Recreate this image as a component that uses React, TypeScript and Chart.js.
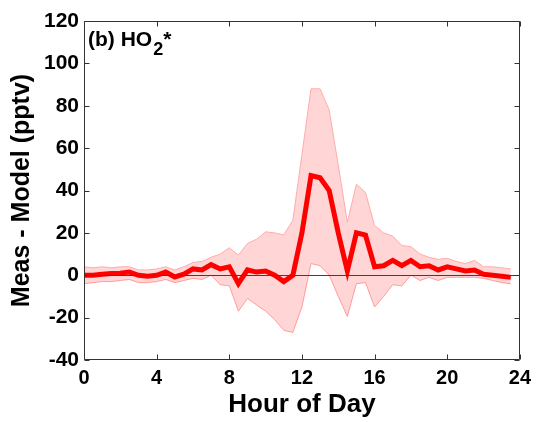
import React, { useEffect, useRef } from "react";
import { Chart, registerables } from "chart.js";

Chart.register(...registerables);

const hours = [0, 0.5, 1, 1.5, 2, 2.5, 3, 3.5, 4, 4.5, 5, 5.5, 6, 6.5, 7, 7.5, 8, 8.5, 9, 9.5, 10, 10.5, 11, 11.5, 12, 12.5, 13, 13.5, 14, 14.5, 15, 15.5, 16, 16.5, 17, 17.5, 18, 18.5, 19, 19.5, 20, 20.5, 21, 21.5, 22, 22.5, 23, 23.5];

const meanDiff = [0, 0, 0.5, 0.8, 1, 1.5, 0, -0.5, 0, 1.5, -0.8, 0.5, 3, 2.5, 5, 3, 4, -4, 2.5, 1.5, 2, 0, -3, 0, 20, 47, 46, 40, 20, 2, 20, 19, 4, 4.5, 7, 4.5, 7, 4, 4.5, 2.5, 4, 3, 2, 2.5, 0.5, 0, -0.5, -1];

const upperBound = [4, 3.5, 4, 3.5, 4, 4, 2.5, 2.5, 3, 4, 2.5, 4, 6, 6.5, 8.5, 10, 13, 9.5, 15, 17, 20.5, 20, 19, 26, 57, 88, 88, 78, 52, 25, 43, 39, 23.5, 20, 18.5, 14, 13.5, 10, 8.5, 7.5, 8, 6.5, 5.5, 7, 4, 4, 3.5, 3];

const lowerBound = [-4, -3.5, -3, -3, -2.5, -2, -3.5, -3.5, -3, -2, -3.5, -2.5, -1.5, -2, 0, -4.5, -5, -17, -11, -14, -17, -21, -26, -27, -15, 5.5, 4.5, 0, -10, -19.5, -4, -3.5, -15, -10, -4.5, -5, 0, -2.5, -1, -2.5, -1, -1, -1, -1, -1.5, -2.5, -3.5, -4];

const xTicks = [0, 4, 8, 12, 16, 20, 24];
const yTicks = [-40, -20, 0, 20, 40, 60, 80, 100, 120];

const FONT = '"Liberation Sans", Arial, Helvetica, sans-serif';

const framePlugin = {
  id: "frame",
  afterDatasetsDraw(chart: any) {
    const { ctx, chartArea, scales } = chart;
    const y0 = Math.round(scales.y.getPixelForValue(0)) + 0.5;
    ctx.save();
    ctx.strokeStyle = "#404040";
    ctx.lineWidth = 1;
    ctx.beginPath();
    ctx.moveTo(chartArea.left, y0);
    ctx.lineTo(chartArea.right, y0);
    ctx.stroke();
    ctx.restore();
  },
  afterDraw(chart: any) {
    const { ctx, chartArea, scales } = chart;
    const l = Math.round(chartArea.left) + 0.5;
    const r = Math.round(chartArea.right) - 0.5;
    const t = Math.round(chartArea.top) + 0.5;
    const b = Math.round(chartArea.bottom) - 0.5;
    ctx.save();
    ctx.strokeStyle = "#333";
    ctx.lineWidth = 1;
    ctx.beginPath();
    ctx.rect(l, t, r - l, b - t);
    const tl = 5;
    yTicks.forEach((v) => {
      const py = Math.round(scales.y.getPixelForValue(v)) + 0.5;
      ctx.moveTo(l, py);
      ctx.lineTo(l + tl, py);
      ctx.moveTo(r, py);
      ctx.lineTo(r - tl, py);
    });
    xTicks.forEach((v) => {
      const px = Math.round(scales.x.getPixelForValue(v)) + 0.5;
      ctx.moveTo(px, b);
      ctx.lineTo(px, b - tl);
      ctx.moveTo(px, t);
      ctx.lineTo(px, t + tl);
    });
    ctx.stroke();

    // panel label
    ctx.fillStyle = "#000";
    ctx.textBaseline = "alphabetic";
    ctx.textAlign = "left";
    let x = chartArea.left + 4;
    const base = chartArea.top + 25;
    ctx.font = `bold 21px ${FONT}`;
    ctx.fillText("(b) HO", x, base);
    x += ctx.measureText("(b) HO").width + 1;
    ctx.font = `bold 18px ${FONT}`;
    ctx.fillText("2", x, base + 9);
    x += ctx.measureText("2").width;
    ctx.font = `bold 21px ${FONT}`;
    ctx.fillText("*", x, base);
    ctx.restore();
  },
};

export default function App() {
  const ref = useRef<HTMLCanvasElement | null>(null);
  useEffect(() => {
    if (!ref.current) return;
    const pts = (arr: number[]) => hours.map((h, i) => ({ x: h, y: arr[i] }));
    const chart = new Chart(ref.current, {
      type: "line",
      data: {
        datasets: [
          {
            label: "Meas - Model",
            data: pts(meanDiff),
            borderColor: "#ff0000",
            borderWidth: 5,
            pointRadius: 0,
            fill: false,
            tension: 0,
            order: 0,
          },
          {
            label: "upper",
            data: pts(upperBound),
            borderColor: "#ffabab",
            borderWidth: 1,
            pointRadius: 0,
            backgroundColor: "rgba(255,0,0,0.165)",
            fill: "+1",
            tension: 0,
            order: 1,
          },
          {
            label: "lower",
            data: pts(lowerBound),
            borderColor: "#ffabab",
            borderWidth: 1,
            pointRadius: 0,
            fill: false,
            tension: 0,
            order: 2,
          },
        ],
      },
      options: {
        responsive: false,
        animation: false,
        layout: { padding: { top: 21, right: 14, left: 0, bottom: 0 } },
        plugins: { legend: { display: false }, tooltip: { enabled: false } },
        scales: {
          x: {
            type: "linear",
            min: 0,
            max: 24,
            afterBuildTicks: (s: any) => {
              s.ticks = xTicks.map((v) => ({ value: v }));
            },
            afterFit: (s: any) => {
              s.height = 62;
            },
            grid: { display: false, drawTicks: false },
            border: { display: false },
            ticks: {
              color: "#000",
              padding: 6,
              maxRotation: 0,
              autoSkip: false,
              font: { family: FONT, size: 20, weight: "bold" },
            },
            title: {
              display: true,
              text: "Hour of Day",
              color: "#000",
              padding: { top: 0, bottom: 2 },
              font: { family: FONT, size: 26, weight: "bold" },
            },
          },
          y: {
            min: -40,
            max: 120,
            afterBuildTicks: (s: any) => {
              s.ticks = yTicks.map((v) => ({ value: v }));
            },
            afterFit: (s: any) => {
              s.width = 84;
            },
            grid: { display: false, drawTicks: false },
            border: { display: false },
            ticks: {
              color: "#000",
              padding: 5,
              autoSkip: false,
              font: { family: FONT, size: 21, weight: "bold" },
            },
            title: {
              display: true,
              text: "Meas - Model (pptv)",
              color: "#000",
              padding: { top: 7, bottom: 0 },
              font: { family: FONT, size: 25, weight: "bold" },
            },
          },
        },
      },
      plugins: [framePlugin],
    });
    return () => chart.destroy();
  }, []);
  return (
    <div style={{ position: "absolute", left: 0, top: 0, width: 537, height: 422, background: "#fff" }}>
      <canvas ref={ref} width={537} height={422} />
    </div>
  );
}
